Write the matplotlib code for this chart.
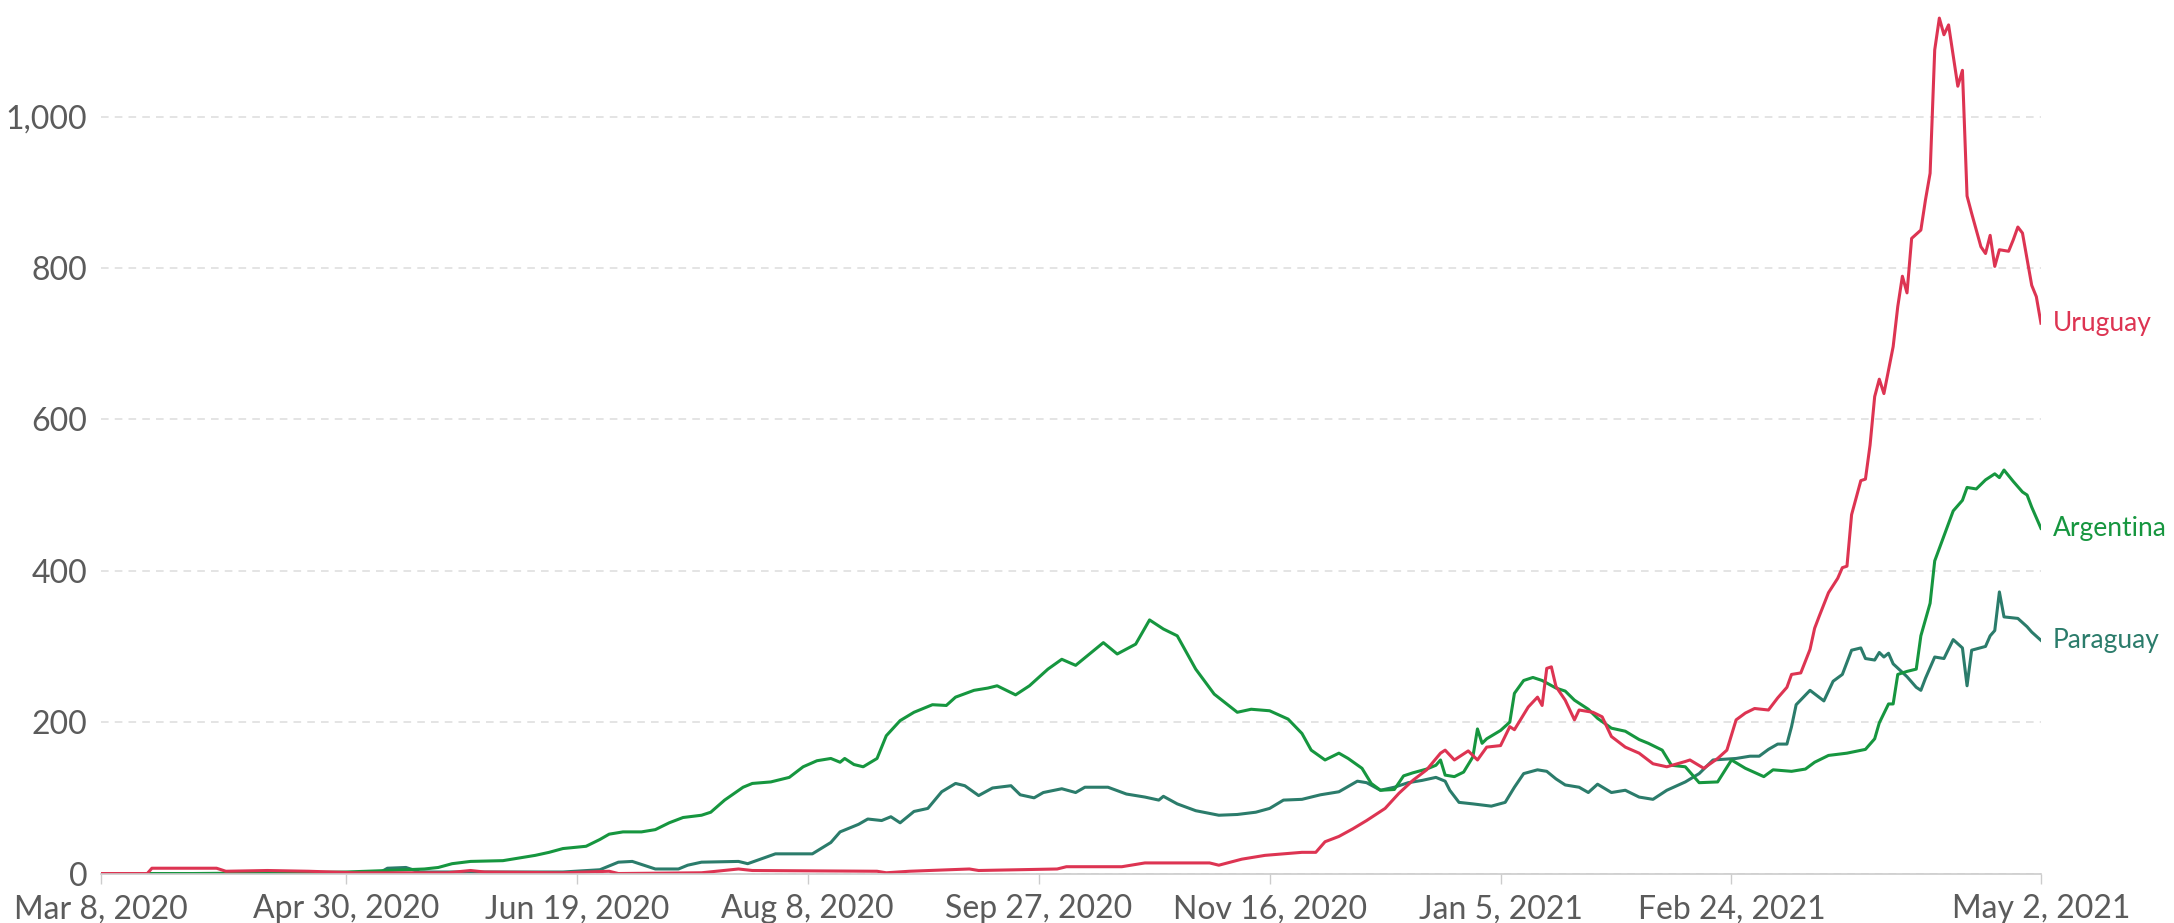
import matplotlib
matplotlib.use('Agg')
import matplotlib.pyplot as plt
import pandas as pd

plt.rcParams['font.family'] = ['Lato', 'DejaVu Sans']

start = pd.Timestamp('2020-03-08')
end = pd.Timestamp('2021-05-02')

# days since Mar 8, 2020 and values
arg_day = [0, 20, 40, 53, 62, 70, 73, 76, 80, 87, 89, 94, 97, 100, 105, 108, 110, 113, 117, 120,
           123, 126, 130, 132, 135, 139, 141, 145, 149, 152, 155, 158, 160, 161, 163, 165, 168, 170, 173, 176,
           180, 183, 185, 189, 192, 194, 198, 201, 205, 208, 211, 214, 217, 220, 224, 227, 230, 233, 235, 237,
           241, 246, 249, 253, 257, 260, 262, 265, 268, 270, 273, 275, 277, 280, 282, 284, 287, 289, 290, 291,
           293, 295, 297, 298, 299, 300, 303, 305, 306, 308, 310, 312, 315, 317, 319, 322, 324, 327, 330, 333,
           335, 338, 340, 343, 346, 350, 353, 356, 360, 362, 366, 369, 371, 374, 378, 382, 384, 385, 387, 388,
           389, 391, 393, 394, 396, 397, 399, 401, 403, 404, 406, 408, 410, 411, 412, 414, 416, 417, 418, 420]
arg_val = [0, 0, 1, 2, 4, 6, 8, 13, 16, 17, 19, 24, 28, 33, 36, 45, 52, 55, 55, 58,
           67, 74, 77, 81, 97, 114, 119, 121, 127, 141, 149, 152, 147, 152, 144, 141, 152, 182, 202, 213,
           223, 222, 233, 242, 245, 248, 236, 248, 270, 283, 275, 290, 305, 290, 303, 335, 323, 314, 292, 270,
           237, 213, 217, 215, 204, 185, 163, 150, 159, 152, 139, 119, 110, 111, 129, 133, 138, 143, 150, 130,
           128, 134, 154, 191, 172, 178, 189, 200, 238, 255, 259, 255, 245, 241, 229, 217, 205, 192, 188, 177,
           172, 163, 143, 141, 120, 121, 150, 139, 128, 137, 135, 138, 147, 156, 159, 164, 178, 199, 224, 224,
           263, 267, 270, 314, 357, 413, 446, 479, 493, 510, 508, 520, 528, 523, 533, 518, 504, 500, 484, 456]

par_day = [0, 60, 62, 66, 69, 100, 108, 112, 115, 118, 120, 125, 127, 130, 138, 140, 146, 154, 158, 160,
           164, 166, 169, 171, 173, 176, 179, 182, 185, 187, 190, 193, 197, 199, 202, 204, 208, 211, 213, 218,
           222, 226, 229, 230, 233, 237, 242, 246, 250, 253, 256, 260, 264, 268, 272, 274, 277, 280, 283, 286,
           289, 291, 292, 294, 297, 301, 304, 306, 308, 311, 313, 315, 317, 320, 322, 324, 327, 330, 333, 336,
           339, 343, 346, 349, 354, 357, 359, 361, 363, 365, 366, 367, 370, 373, 375, 377, 379, 381, 382, 384,
           385, 386, 387, 388, 391, 393, 394, 395, 397, 399, 401, 403, 404, 405, 408, 409, 410, 411, 412, 415,
           417, 418, 420]
par_val = [0, 0, 7, 8, 2, 2, 5, 15, 16, 10, 6, 6, 11, 15, 16, 13, 26, 26, 41, 55,
           65, 72, 70, 75, 67, 82, 86, 108, 119, 116, 103, 113, 116, 104, 100, 107, 112, 107, 114, 114,
           105, 101, 97, 102, 92, 83, 77, 78, 81, 86, 97, 98, 104, 108, 122, 120, 110, 114, 120, 123,
           127, 122, 110, 94, 92, 89, 94, 114, 132, 137, 135, 125, 117, 114, 107, 118, 107, 110, 101, 98,
           110, 121, 132, 150, 152, 155, 155, 164, 171, 171, 194, 223, 242, 228, 254, 263, 295, 298, 284, 282,
           292, 286, 291, 277, 260, 246, 242, 258, 286, 284, 309, 298, 248, 295, 300, 314, 321, 372, 339, 337,
           326, 319, 308]

uru_day = [0, 10, 11, 25, 27, 36, 45, 55, 75, 80, 83, 100, 110, 112, 130, 138, 141, 168, 170, 175,
           188, 190, 207, 209, 221, 226, 240, 242, 247, 252, 256, 260, 263, 265, 268, 271, 274, 278, 281, 284,
           287, 290, 291, 293, 296, 298, 300, 303, 305, 306, 309, 311, 312, 313, 314, 315, 317, 319, 320, 323,
           325, 327, 330, 333, 336, 339, 343, 344, 347, 350, 352, 354, 356, 358, 361, 363, 365, 366, 368, 370,
           371, 372, 374, 376, 377, 378, 379, 381, 382, 383, 384, 385, 386, 388, 389, 390, 391, 392, 394, 395,
           396, 397, 398, 399, 400, 402, 403, 404, 405, 407, 408, 409, 410, 411, 413, 414, 415, 416, 418, 419,
           420]
uru_val = [0, 0, 7, 7, 3, 4, 3, 1, 1, 4, 2, 1, 3, 0, 1, 6, 4, 3, 1, 3,
           6, 4, 6, 9, 9, 14, 14, 11, 19, 24, 26, 28, 28, 42, 49, 59, 70, 86, 106, 123,
           137, 159, 163, 150, 162, 150, 167, 169, 194, 190, 220, 233, 222, 271, 273, 247, 229, 203, 216, 213,
           207, 181, 167, 159, 145, 141, 148, 150, 139, 152, 163, 203, 212, 218, 216, 232, 246, 263, 265, 296,
           324, 340, 371, 390, 404, 406, 474, 519, 521, 566, 630, 653, 634, 696, 749, 789, 767, 839, 850, 890,
           925, 1088, 1130, 1108, 1121, 1040, 1061, 895, 872, 828, 819, 843, 802, 824, 822, 837, 854, 846, 777, 762,
           727]

countries = ['Paraguay', 'Argentina', 'Uruguay']
colors = ['#2b7c6b', '#16963f', '#dd3452']

tick_days = [0, 53, 103, 153, 203, 253, 303, 353, 420]
tick_labels = ['Mar 8, 2020', 'Apr 30, 2020', 'Jun 19, 2020', 'Aug 8, 2020', 'Sep 27, 2020',
               'Nov 16, 2020', 'Jan 5, 2021', 'Feb 24, 2021', 'May 2, 2021']
y_ticks = [0, 200, 400, 600, 800, 1000]

fig = plt.figure(figsize=(21.74, 9.23), dpi=100)
ax = fig.add_axes([0.0465, 0.0536, 0.8923, 0.935])

data = {'Paraguay': (par_day, par_val), 'Argentina': (arg_day, arg_val), 'Uruguay': (uru_day, uru_val)}
for name, col in zip(countries, colors):
    days, vals = data[name]
    x = start + pd.to_timedelta(days, unit='D')
    ax.plot(x, vals, color=col, lw=2.2, solid_joinstyle='round')
    ax.text(x[-1] + pd.Timedelta(days=2.5), vals[-1], name, color=col, fontsize=19,
            va='center', ha='left')

ax.set_xlim(start, end)
ax.set_ylim(0, 1140)

ax.set_xticks(start + pd.to_timedelta(tick_days, unit='D'))
ax.set_xticklabels(tick_labels)
ax.set_yticks(y_ticks)
ax.set_yticklabels(['{:,}'.format(v) for v in y_ticks])

ax.grid(axis='y', linestyle=(0, (5, 4)), color='#dddddd', lw=1.1)
ax.set_axisbelow(True)
for s in ['top', 'right', 'left']:
    ax.spines[s].set_visible(False)
ax.spines['bottom'].set_color('#cccccc')
ax.spines['bottom'].set_linewidth(1.2)

ax.tick_params(axis='x', colors='#cccccc', length=7, width=1, pad=8, labelsize=23, labelcolor='#5b5b5b')
ax.tick_params(axis='y', length=0, pad=10, labelsize=23, labelcolor='#5b5b5b')

fig.savefig('out.png', dpi=100, facecolor='white')
